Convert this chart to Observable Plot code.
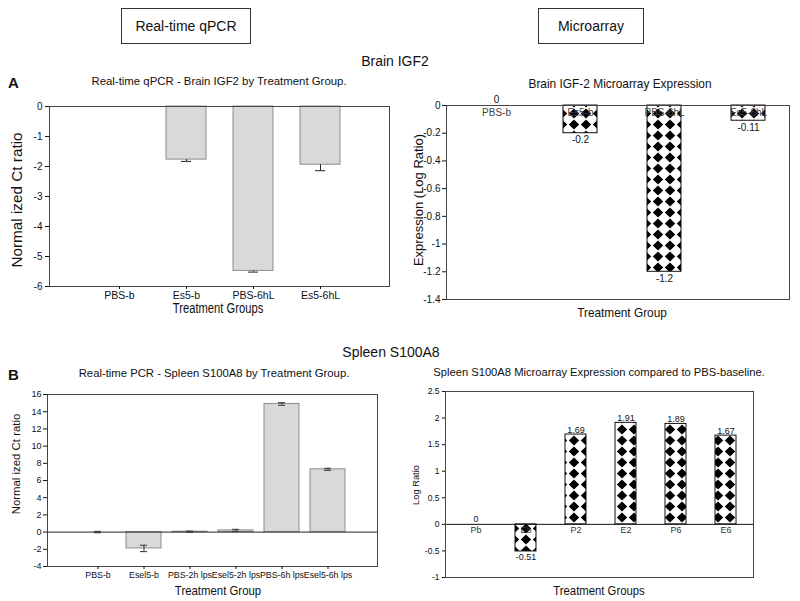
<!DOCTYPE html>
<html>
<head>
<meta charset="utf-8">
<script src="https://cdn.jsdelivr.net/npm/d3@7"></script>
<script src="https://cdn.jsdelivr.net/npm/@observablehq/plot@0.6"></script>
<style>
  html, body { margin: 0; padding: 0; background: #fff; }
  #fig { position: relative; width: 800px; height: 601px; overflow: hidden; background: #fff;
         font-family: "Liberation Sans", Arial, Helvetica, sans-serif; color: #111; }
  .t { position: absolute; white-space: nowrap; transform: translate(-50%, -50%); line-height: 1; }
  .box { position: absolute; border: 1.5px solid #333; box-sizing: border-box; display: flex;
         align-items: center; justify-content: center; font-size: 14px; }
  .panel { position: absolute; }
</style>
</head>
<body>
<div id="fig"></div>
<script>
// ---------------- data ----------------
const brainQpcrGroups = ["PBS-b", "Es5-b", "PBS-6hL", "Es5-6hL"];
const brainQpcrValues = [0, -1.77, -5.48, -1.94];
const brainQpcrErrors = [0, 0.06, 0.04, 0.2];
const brainQpcrTicks = [0, -1, -2, -3, -4, -5, -6];

const brainArrayGroups = ["PBS-b", "Es5-b", "PBS-6hL", "Es5-6hL"];
const brainArrayValues = [0, -0.2, -1.2, -0.11];
const brainArrayTicks = [0, -0.2, -0.4, -0.6, -0.8, -1, -1.2, -1.4];

const spleenQpcrGroups = ["PBS-b", "Esel5-b", "PBS-2h lps", "Esel5-2h lps", "PBS-6h lps", "Esel5-6h lps"];
const spleenQpcrValues = [0, -1.9, 0.05, 0.2, 14.9, 7.3];
const spleenQpcrErrors = [0.08, 0.37, 0.06, 0.12, 0.15, 0.12];
const spleenQpcrTicks = [16, 14, 12, 10, 8, 6, 4, 2, 0, -2, -4];

const spleenArrayGroups = ["Pb", "Eb", "P2", "E2", "P6", "E6"];
const spleenArrayValues = [0, -0.51, 1.69, 1.91, 1.89, 1.67];
const spleenArrayTicks = [2.5, 2, 1.5, 1, 0.5, 0, -0.5, -1];

// ---------------- helpers ----------------
const FONT = '"Liberation Sans", Arial, Helvetica, sans-serif';
const fmt = d => String(d);
const fig = document.getElementById("fig");

function label(text, x, y, size, extra = "") {
  const d = document.createElement("div");
  d.className = "t";
  d.textContent = text;
  d.style.left = x + "px";
  d.style.top = y + "px";
  d.style.fontSize = size + "px";
  if (extra) d.style.transform = "translate(-50%, -50%) " + extra;
  fig.appendChild(d);
  return d;
}
function box(text, x, y, w, h) {
  const d = document.createElement("div");
  d.className = "box";
  d.textContent = text;
  Object.assign(d.style, {left: x + "px", top: y + "px", width: w + "px", height: h + "px"});
  fig.appendChild(d);
}
function place(svg, x, y) {
  svg.classList.add("panel");
  svg.style.left = x + "px";
  svg.style.top = y + "px";
  fig.appendChild(svg);
}
function addPattern(svg, id) {
  const ns = "http://www.w3.org/2000/svg";
  const defs = document.createElementNS(ns, "defs");
  const pat = document.createElementNS(ns, "pattern");
  pat.setAttribute("id", id);
  pat.setAttribute("patternUnits", "userSpaceOnUse");
  pat.setAttribute("width", "12");
  pat.setAttribute("height", "11");
  const r = document.createElementNS(ns, "rect");
  r.setAttribute("width", "12"); r.setAttribute("height", "11"); r.setAttribute("fill", "#fff");
  const p = document.createElementNS(ns, "polygon");
  p.setAttribute("points", "6,0.6 11.2,5.5 6,10.4 0.8,5.5");
  p.setAttribute("fill", "#000");
  pat.appendChild(r); pat.appendChild(p); defs.appendChild(pat);
  svg.insertBefore(defs, svg.firstChild);
}

// ---------------- panel A left: qPCR brain ----------------
{
  const data = brainQpcrGroups.map((g, i) => ({g, v: brainQpcrValues[i], e: brainQpcrErrors[i]}));
  const errs = data.filter(d => d.e > 0);
  const svg = Plot.plot({
    width: 400, height: 210,
    marginTop: 10, marginBottom: 20, marginLeft: 49, marginRight: 11,
    style: {fontFamily: FONT, fontSize: "10px", background: "transparent", overflow: "visible", color: "#111"},
    x: {type: "band", domain: brainQpcrGroups, paddingInner: 0.41, paddingOuter: 0.725},
    y: {domain: [-6, 0]},
    marks: [
      Plot.barY(data, {x: "g", y: "v", fill: "#d9d9d9", stroke: "#8c8c8c"}),
      Plot.ruleX(errs, {x: "g", y1: "v", y2: d => d.v - d.e, stroke: "#222"}),
      Plot.tickY(errs, {x: "g", y: d => d.v - d.e, stroke: "#222", insetLeft: 15, insetRight: 15}),
      Plot.frame({stroke: "#444"}),
      Plot.axisY({ticks: brainQpcrTicks, tickFormat: fmt, tickSize: 4, tickPadding: 3, label: null}),
      Plot.axisX({tickSize: 3, tickPadding: 2, label: null, fontSize: 10.5})
    ]
  });
  place(svg, 0, 96);
}

// ---------------- panel A right: microarray brain ----------------
{
  const data = brainArrayGroups.map((g, i) => ({g, v: brainArrayValues[i]}));
  const svg = Plot.plot({
    width: 400, height: 219,
    marginTop: 19, marginBottom: 6, marginLeft: 46, marginRight: 11,
    style: {fontFamily: FONT, fontSize: "10px", background: "transparent", overflow: "visible", color: "#111"},
    x: {type: "band", domain: brainArrayGroups, paddingInner: 0.6, paddingOuter: 0.333, align: 0.57, axis: null},
    y: {domain: [-1.4, 0]},
    marks: [
      Plot.barY(data, {x: "g", y: "v", fill: "url(#diamA)", stroke: "#111"}),
      Plot.text(data, {x: "g", y: 0, text: "g", lineAnchor: "top", dy: 3, fontSize: 10, fill: "#444"}),
      Plot.text(data.filter(d => d.v >= 0), {x: "g", y: "v", text: d => fmt(d.v), lineAnchor: "bottom", dy: -3, fontSize: 10}),
      Plot.text(data.filter(d => d.v < 0), {x: "g", y: "v", text: d => fmt(d.v), lineAnchor: "top", dy: 3, fontSize: 10}),
      Plot.frame({stroke: "#444"}),
      Plot.axisY({ticks: brainArrayTicks, tickFormat: fmt, tickSize: 4, tickPadding: 2, label: null})
    ]
  });
  addPattern(svg, "diamA");
  place(svg, 400, 86);
}

// ---------------- panel B left: qPCR spleen ----------------
{
  const data = spleenQpcrGroups.map((g, i) => ({g, v: spleenQpcrValues[i], e: spleenQpcrErrors[i]}));
  const svg = Plot.plot({
    width: 400, height: 200,
    marginTop: 10, marginBottom: 18, marginLeft: 47, marginRight: 23,
    style: {fontFamily: FONT, fontSize: "9px", background: "transparent", overflow: "visible", color: "#111"},
    x: {type: "band", domain: spleenQpcrGroups, paddingInner: 0.25, paddingOuter: 0.655},
    y: {domain: [-4, 16]},
    marks: [
      Plot.barY(data, {x: "g", y: "v", fill: "#d9d9d9", stroke: "#8c8c8c"}),
      Plot.ruleY([0], {stroke: "#222"}),
      Plot.ruleX(data, {x: "g", y1: d => d.v - d.e, y2: d => d.v + d.e, stroke: "#333"}),
      Plot.tickY(data, {x: "g", y: d => d.v - d.e, stroke: "#333", insetLeft: 14, insetRight: 14}),
      Plot.tickY(data, {x: "g", y: d => d.v + d.e, stroke: "#333", insetLeft: 14, insetRight: 14}),
      Plot.frame({stroke: "#444"}),
      Plot.axisY({ticks: spleenQpcrTicks, tickFormat: fmt, tickSize: 4, tickPadding: 2, label: null}),
      Plot.axisX({tickSize: 3, tickPadding: 2, label: null, fontSize: 8.8})
    ]
  });
  place(svg, 0, 384);
}

// ---------------- panel B right: microarray spleen ----------------
{
  const data = spleenArrayGroups.map((g, i) => ({g, v: spleenArrayValues[i]}));
  const svg = Plot.plot({
    width: 400, height: 202,
    marginTop: 11, marginBottom: 5, marginLeft: 45, marginRight: 47,
    style: {fontFamily: FONT, fontSize: "8.5px", background: "transparent", overflow: "visible", color: "#111"},
    x: {type: "band", domain: spleenArrayGroups, paddingInner: 0.586, paddingOuter: 0.333, align: 0.53, axis: null},
    y: {domain: [-1, 2.5]},
    marks: [
      Plot.barY(data, {x: "g", y: "v", fill: "url(#diamB)", stroke: "#111"}),
      Plot.ruleY([0], {stroke: "#111"}),
      Plot.text(data, {x: "g", y: 0, text: "g", lineAnchor: "top", dy: 2, fontSize: 9, fill: "#333"}),
      Plot.text(data.filter(d => d.v >= 0), {x: "g", y: "v", text: d => fmt(d.v), lineAnchor: "bottom", dy: -2, fontSize: 9}),
      Plot.text(data.filter(d => d.v < 0), {x: "g", y: "v", text: d => fmt(d.v), lineAnchor: "top", dy: 2, fontSize: 9}),
      Plot.frame({stroke: "#444"}),
      Plot.axisY({ticks: spleenArrayTicks, tickFormat: fmt, tickSize: 3, tickPadding: 3, label: null})
    ]
  });
  addPattern(svg, "diamB");
  place(svg, 400, 380);
}

// ---------------- titles and axis titles ----------------
box("Real-time qPCR", 121, 8, 130, 36);
box("Microarray", 538, 8, 106, 36);
label("Brain IGF2", 395, 61, 14);
label("A", 13.5, 82, 15).style.fontWeight = "bold";
label("Real-time qPCR - Brain IGF2 by Treatment Group.", 219, 82, 11.4);
label("Brain IGF-2 Microarray Expression", 620, 85, 11.9);
label("Spleen S100A8", 391, 352, 14);
label("B", 13.5, 374, 15).style.fontWeight = "bold";
label("Real-time PCR - Spleen S100A8 by Treatment Group.", 214, 374, 11.3);
label("Spleen S100A8 Microarray Expression compared to PBS-baseline.", 599, 373, 11.2);

label("Treatment Groups", 217.5, 308, 14, "scaleX(0.8)");
label("Normal ized Ct ratio", 17, 200, 15.3, "rotate(-90deg)");
label("Treatment Group", 621.7, 311.7, 13, "scaleX(0.91)");
label("Expression (Log Ratio)", 418, 200, 13, "rotate(-90deg)");
label("Treatment Group", 218, 590, 13, "scaleX(0.876)");
label("Normal ized Ct ratio", 17, 464, 11.4, "rotate(-90deg)");
label("Treatment Groups", 599, 590, 13, "scaleX(0.87)");
label("Log Ratio", 417, 485, 9.3, "rotate(-90deg)");
</script>
</body>
</html>
